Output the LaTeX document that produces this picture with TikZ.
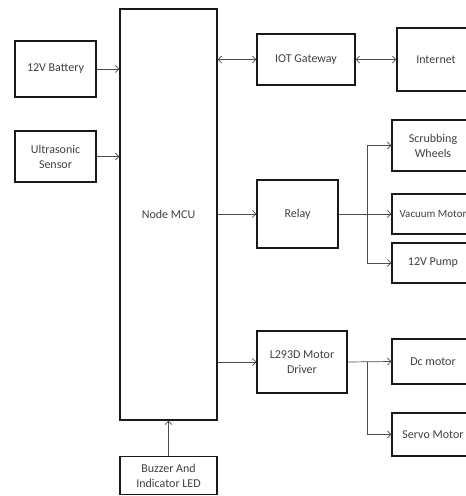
\documentclass[tikz,border=0pt]{standalone}
\usepackage{fontspec}
\setmainfont{Carlito}
\usepackage{tikz}
\usetikzlibrary{positioning, calc, arrows.meta}

\begin{document}
\begin{tikzpicture}[x=1pt,y=-1pt,
    blk/.style={draw=black!90, line width=1.1pt, fill=white, align=center,
      text=black!75, font=\fontsize{12}{15}\selectfont, inner sep=1pt},
    arr/.style={draw=black!70, line width=0.7pt, -{Straight Barb[length=3.5pt,width=7pt]}},
    darr/.style={draw=black!70, line width=0.7pt, {Straight Barb[length=3.5pt,width=7pt]}-{Straight Barb[length=3.5pt,width=7pt]}},
    ln/.style={draw=black!70, line width=0.7pt}]
      \useasboundingbox (0,0) rectangle (466,496);
      % blocks
      \node[blk, minimum width=97pt, minimum height=411pt] (mcu) at (168.5,214.5) {Node MCU};
      \node[blk, minimum width=81pt, minimum height=56pt] (battery) at (55.5,69) {12V Battery};
      \node[blk, minimum width=81pt, minimum height=51pt] (sensor) at (55.5,156.5) {Ultrasonic\\Sensor};
      \node[blk, minimum width=97pt, minimum height=38pt] (buzzer) at (168.5,475.5) {Buzzer And\\Indicator LED};
      \node[blk, minimum width=98pt, minimum height=51pt] (gateway) at (306,59.5) {IOT Gateway};
      \node[blk, minimum width=78pt, minimum height=63pt] (internet) at (436,59.5) {Internet};
      \node[blk, minimum width=81pt, minimum height=68pt] (relay) at (297.5,214) {Relay};
      \node[blk, minimum width=90pt, minimum height=62pt] (driver) at (302,362) {L293D Motor\\Driver};
      \node[blk, minimum width=82pt, minimum height=51pt] (scrub) at (433,145.5) {Scrubbing\\Wheels};
      \node[blk, minimum width=82pt, minimum height=40pt, font=\fontsize{11}{13}\selectfont] (vacuum) at (433,214) {Vacuum Motor};
      \node[blk, minimum width=82pt, minimum height=40pt] (pump) at (433,263) {12V Pump};
      \node[blk, minimum width=82pt, minimum height=45pt] (dc) at (433,361.5) {Dc motor};
      \node[blk, minimum width=82pt, minimum height=43pt] (servo) at (433,434.5) {Servo Motor};
      % links into the controller
      \draw[arr] (battery.east) -- (battery.east -| mcu.west);
      \draw[arr] (sensor.east) -- (sensor.east -| mcu.west);
      \draw[arr] (buzzer.north) -- (mcu.south);
      % links out of the controller
      \draw[darr] (gateway.west -| mcu.east) -- (gateway.west);
      \draw[darr] (gateway.east) -- (internet.west);
      \draw[arr] (relay.west -| mcu.east) -- (relay.west);
      \draw[arr] (driver.west -| mcu.east) -- (driver.west);
      % relay branch
      \coordinate (rsplit) at (367,214);
      \draw[arr] (relay.east) -- (vacuum.west);
      \draw[arr] (rsplit) |- (scrub.west);
      \draw[arr] (rsplit) |- (pump.west);
      % driver branch
      \coordinate (dsplit) at (367,362);
      \draw[arr] (driver.east) -- (dc.west);
      \draw[arr] (dsplit) |- (servo.west);
    \end{tikzpicture}
\end{document}
